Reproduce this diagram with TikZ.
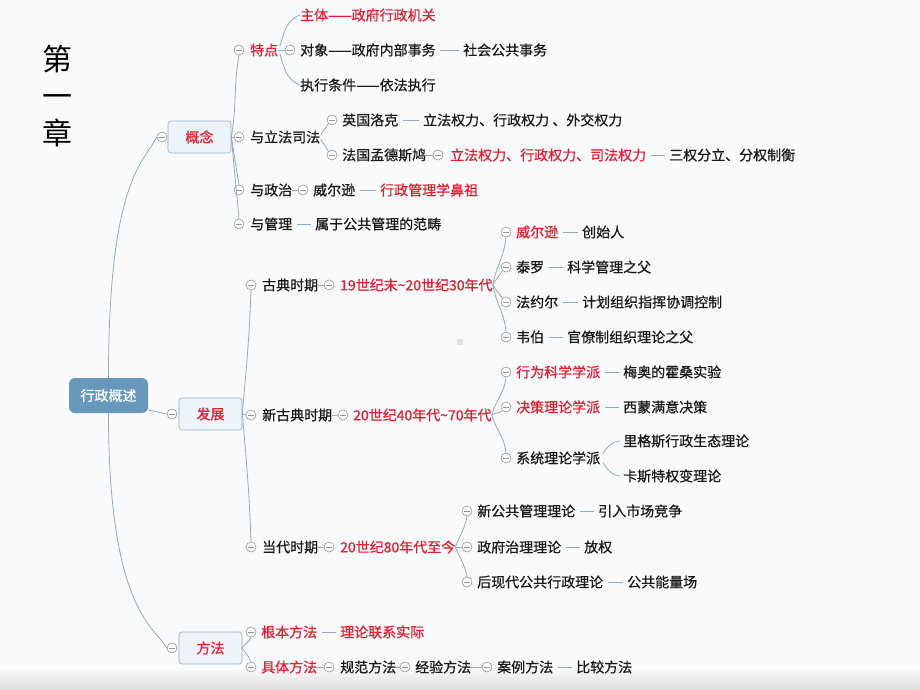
\documentclass[tikz,border=0pt]{standalone}
\usepackage{fontspec}
\setmainfont{Noto Sans CJK SC}
\newfontfamily\mapfont{Noto Sans CJK SC}[FakeBold=0.6]
\definecolor{hotRed}{RGB}{232,28,48}
\definecolor{lineBlue}{RGB}{140,172,196}
\definecolor{rootBlue}{RGB}{104,153,189}
\definecolor{boxFill}{RGB}{236,243,249}
\definecolor{boxLine}{RGB}{150,176,199}
\definecolor{foldGray}{RGB}{150,150,150}
\definecolor{paperGray}{RGB}{249,250,251}
\usepackage{tikz}

\begin{document}
\begin{tikzpicture}[x=1pt,y=1pt,
    txt/.style={anchor=west,inner sep=0pt,font=\mapfont\fontsize{14}{16}\selectfont,text=black!90},
    hot/.style={txt,text=hotRed},
    topic/.style={rounded corners=3pt,draw=boxLine,fill=boxFill,line width=0.6pt,
                  minimum width=63pt,minimum height=32pt,font=\mapfont\fontsize{14}{16}\selectfont,text=hotRed},
    rootbox/.style={rounded corners=6pt,fill=rootBlue,minimum width=79pt,minimum height=35pt,
                    font=\mapfont\fontsize{14}{16}\selectfont,text=white},
    fold/.style={circle,draw=foldGray,fill=white,line width=0.6pt,minimum size=10pt,inner sep=0pt,
                 path picture={\draw[foldGray,line width=0.6pt]
                   ([xshift=-3pt]path picture bounding box.center) -- ([xshift=3pt]path picture bounding box.center);}},
    branch/.style={draw=lineBlue,line width=0.8pt},
    dashlink/.style={branch,shorten <=4.5pt,shorten >=4.5pt}
  ]
  \fill[paperGray] (0,0) rectangle (920,-690);
  \shade[top color=paperGray,bottom color=black!13] (0,-668) rectangle (920,-690);
  \useasboundingbox (0,0) rectangle (920,-690);
  \fill[black!12] (457,-339) rectangle (463,-345);

  \node[font=\fontsize{30}{37}\selectfont,align=center,inner sep=0pt] (chapter) at (57,-96) {第\\一\\章};

  \node[rootbox] (root) at (108.5,-395.5) {行政概述};
  \node[topic] (gn) at (199.5,-137) {概念};
  \node[fold] (cgn) at (162,-137) {};
  \node[topic] (fz) at (210.5,-414) {发展};
  \node[fold] (cfz) at (172,-414) {};
  \node[topic] (ff) at (210.5,-648) {方法};
  \node[fold] (cff) at (172,-648) {};
  \draw[branch] (root.north) .. controls +(0,200) and +(-12,-25) .. (cgn.west);
  \draw[branch] (root.-20) -- (cfz.west);
  \draw[branch] (root.south) .. controls +(0,-200) and +(-10,20) .. (cff.west);

  \node[fold] (ctd) at (239,-50) {};
  \node[hot] (td) at (250,-50) {特点};
  \node[fold] (clf) at (239,-137) {};
  \node[txt] (lf) at (250,-137) {与立法司法};
  \node[fold] (czz) at (239,-190) {};
  \node[txt] (zz) at (250,-190) {与政治};
  \node[fold] (cgl) at (239,-224) {};
  \node[txt] (gl) at (250,-224) {与管理};
  \draw[branch] (gn.east) to[out=80,in=-100] (ctd.south);
  \draw[branch] (gn.east) -- (clf.west);
  \draw[branch] (gn.east) to[out=-80,in=100] (czz.north);
  \draw[branch] (gn.east) to[out=-85,in=95] (cgl.north);

  \node[fold] (cdx) at (290,-50) {};
  \node[hot] (zt) at (300,-15) {主体——政府行政机关};
  \node[txt] (dx) at (300,-50) {对象——政府内部事务};
  \node[txt] (zx) at (300,-85) {执行条件——依法执行};
  \node[txt] (sh) at (463,-50) {社会公共事务};
  \draw[branch] (td) -- (cdx);
  \draw[branch,shorten <=4pt] (td.east) to[out=70,in=200] (zt.west);
  \draw[branch,shorten <=4pt] (td.east) to[out=-70,in=160] (zx.west);
  \draw[dashlink] (dx) -- (sh);

  \node[fold] (cyg) at (332,-120) {};
  \node[txt] (yg) at (342,-120) {英国洛克};
  \node[txt] (ygq) at (423,-120) {立法权力、行政权力 、外交权力};
  \node[fold] (cfg) at (332,-155) {};
  \node[txt] (fg) at (342,-155) {法国孟德斯鸠};
  \node[fold] (cfq) at (438,-155) {};
  \node[hot] (fq) at (450,-155) {立法权力、行政权力、司法权力};
  \node[txt] (sq) at (669,-155) {三权分立、分权制衡};
  \draw[branch,shorten <=2pt] (lf.east) to[out=75,in=-115] (cyg.south west);
  \draw[branch,shorten <=2pt] (lf.east) to[out=-75,in=115] (cfg.north west);
  \draw[dashlink] (yg) -- (ygq);
  \draw[branch] (fg) -- (cfq);
  \draw[dashlink] (fq) -- (sq);

  \node[fold] (cww) at (303,-190) {};
  \node[txt] (ww) at (313,-190) {威尔逊};
  \node[hot] (bz) at (380,-190) {行政管理学鼻祖};
  \draw[branch] (zz) -- (cww);
  \draw[dashlink] (ww) -- (bz);

  \node[txt] (fc) at (315,-224) {属于公共管理的范畴};
  \draw[dashlink] (gl) -- (fc);

  \node[fold] (cgd) at (251,-285) {};
  \node[txt] (gd) at (262,-285) {古典时期};
  \node[fold] (cxg) at (251,-415) {};
  \node[txt] (xg) at (262,-415) {新古典时期};
  \node[fold] (cdd) at (251,-547) {};
  \node[txt] (dd) at (262,-547) {当代时期};
  \draw[branch] (fz.east) to[out=85,in=-92] (cgd.south);
  \draw[branch] (fz.east) -- (cxg.west);
  \draw[branch] (fz.east) to[out=-85,in=92] (cdd.north);

  \node[fold] (cgs) at (329,-285) {};
  \node[hot] (gs) at (340,-285) {19世纪末\textasciitilde 20世纪30年代};
  \node[fold] (cxs) at (343,-415) {};
  \node[hot] (xs) at (353,-415) {20世纪40年代\textasciitilde 70年代};
  \node[fold] (cds) at (329,-547) {};
  \node[hot] (ds) at (340,-547) {20世纪80年代至今};
  \draw[branch] (gd) -- (cgs);
  \draw[branch] (xg) -- (cxs);
  \draw[branch] (dd) -- (cds);

  \node[fold] (cws) at (506,-232) {};
  \node[hot] (ws) at (516,-232) {威尔逊};
  \node[txt] (cs) at (582,-232) {创始人};
  \node[fold] (ctl) at (506,-267) {};
  \node[txt] (tl) at (516,-267) {泰罗};
  \node[txt] (kx) at (567,-267) {科学管理之父};
  \node[fold] (cfy) at (506,-302) {};
  \node[txt] (fy) at (516,-302) {法约尔};
  \node[txt] (jh) at (582,-302) {计划组织指挥协调控制};
  \node[fold] (cwb) at (506,-337) {};
  \node[txt] (wb) at (516,-337) {韦伯};
  \node[txt] (gb2) at (567,-337) {官僚制组织理论之父};
  \draw[branch] (gs.east) to[out=80,in=-95] (cws.south);
  \draw[branch] (gs.east) to[out=60,in=-120] (ctl.south west);
  \draw[branch] (gs.east) to[out=-60,in=120] (cfy.north west);
  \draw[branch] (gs.east) to[out=-80,in=95] (cwb.north);
  \draw[dashlink] (ws) -- (cs);
  \draw[dashlink] (tl) -- (kx);
  \draw[dashlink] (fy) -- (jh);
  \draw[dashlink] (wb) -- (gb2);

  \node[fold] (cxw) at (506,-372) {};
  \node[hot] (xw) at (516,-372) {行为科学学派};
  \node[txt] (my) at (623,-372) {梅奥的霍桑实验};
  \node[fold] (cjc) at (506,-407) {};
  \node[hot] (jc) at (516,-407) {决策理论学派};
  \node[txt] (xm) at (623,-407) {西蒙满意决策};
  \node[fold] (cxt) at (506,-458) {};
  \node[txt] (xt) at (516,-458) {系统理论学派};
  \node[txt] (lgs) at (623,-441) {里格斯行政生态理论};
  \node[txt] (kst) at (623,-476) {卡斯特权变理论};
  \draw[branch] (xs.east) to[out=75,in=-95] (cxw.south);
  \draw[branch] (xs.east) to[out=45,in=-135] (cjc.south west);
  \draw[branch] (xs.east) to[out=-75,in=95] (cxt.north);
  \draw[dashlink] (xw) -- (my);
  \draw[dashlink] (jc) -- (xm);
  \draw[branch,shorten <=5pt,shorten >=3pt] (xt.east) to[out=60,in=180] (lgs.west);
  \draw[branch,shorten <=5pt,shorten >=3pt] (xt.east) to[out=-60,in=180] (kst.west);

  \node[fold] (cxgg) at (467,-511) {};
  \node[txt] (xgg) at (477,-511) {新公共管理理论};
  \node[txt] (yr) at (598,-511) {引入市场竞争};
  \node[fold] (czl) at (467,-547) {};
  \node[txt] (zl) at (477,-547) {政府治理理论};
  \node[txt] (fq2) at (584,-547) {放权};
  \node[fold] (chx) at (467,-582) {};
  \node[txt] (hx) at (477,-582) {后现代公共行政理论};
  \node[txt] (gnl) at (627,-582) {公共能量场};
  \draw[branch] (ds.east) to[out=70,in=-100] (cxgg.south);
  \draw[branch] (ds.east) -- (czl.west);
  \draw[branch] (ds.east) to[out=-70,in=100] (chx.north);
  \draw[dashlink] (xgg) -- (yr);
  \draw[dashlink] (zl) -- (fq2);
  \draw[dashlink] (hx) -- (gnl);

  \node[fold] (cgb) at (251,-632) {};
  \node[hot] (gb) at (261,-632) {根本方法};
  \node[hot] (ll) at (340,-632) {理论联系实际};
  \node[fold] (cjt) at (251,-667) {};
  \node[hot] (jt) at (261,-667) {具体方法};
  \node[fold] (cgf) at (329,-667) {};
  \node[txt] (gf) at (340,-667) {规范方法};
  \node[fold] (cjy) at (405,-667) {};
  \node[txt] (jy) at (415,-667) {经验方法};
  \node[fold] (cal) at (487,-667) {};
  \node[txt] (al) at (497,-667) {案例方法};
  \node[txt] (bj) at (576,-667) {比较方法};
  \draw[branch] (ff.east) to[out=60,in=-110] (cgb.south);
  \draw[branch] (ff.east) to[out=-60,in=110] (cjt.north);
  \draw[dashlink] (gb) -- (ll);
  \draw[branch] (jt) -- (cgf);
  \draw[branch] (gf) -- (cjy);
  \draw[branch] (jy) -- (cal);
  \draw[dashlink] (al) -- (bj);
\end{tikzpicture}
\end{document}
